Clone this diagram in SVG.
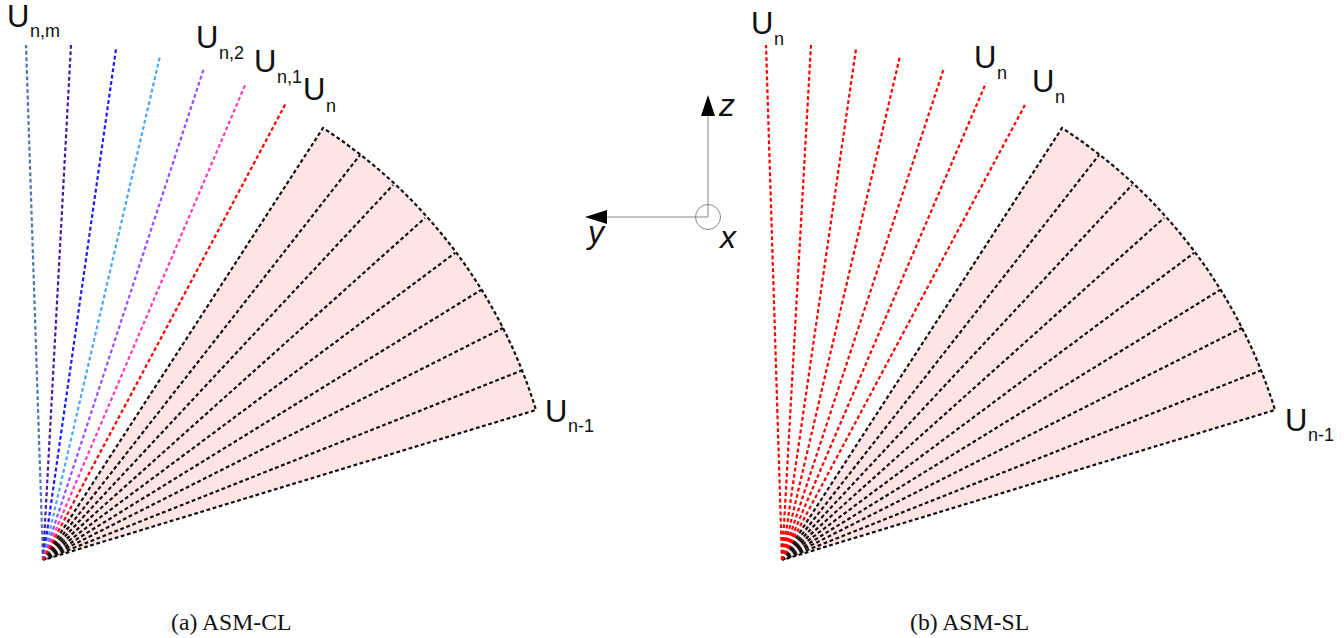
<svg xmlns="http://www.w3.org/2000/svg" width="1344" height="638" viewBox="0 0 1344 638">
<style>
.s{fill:none;stroke-width:2.2;stroke-dasharray:3.8 2.6}
.k{stroke:#111}
.r{stroke:#f00}
.w{fill:#fee4e4;stroke:none}
text{font-family:"Liberation Sans",Arial,sans-serif;fill:#111}
.u{font-size:31px}
.b{font-size:18px}
.i{font-size:32px;font-style:italic}
.c{font-family:"Liberation Serif","Times New Roman",serif;font-size:23.7px}
.a{fill:none;stroke:#888;stroke-width:1}
</style>
<defs>
<g id="fan">
<path class="w" d="M43 560L323 128A515 515 0 0 1 536 410Z"/>
<path class="s k" d="M43 560L323 128A515 515 0 0 1 536 410L43 560M43 560L360 155M43 560L393 185M43 560L425 218M43 560L455 253M43 560L481 290M43 560L503 328M43 560L523 370"/>
</g>
</defs>
<g id="panel-a">
<use href="#fan"/>
<g id="connectors-a">
<path class="s" stroke="#4a78b0" d="M43 560L26 45"/>
<path class="s" stroke="#4a1a9c" d="M43 560L71 45"/>
<path class="s" stroke="#1a1aff" d="M43 560L116 49"/>
<path class="s" stroke="#4da6ff" d="M43 560L160 56"/>
<path class="s" stroke="#9b4dff" d="M43 560L204 68"/>
<path class="s" stroke="#ff3db8" d="M43 560L246 83"/>
<path class="s r" d="M43 560L286 103"/>
</g>
<text class="u" x="7" y="27">U</text><text class="b" x="30" y="37">n,m</text>
<text class="u" x="196" y="48">U</text><text class="b" x="219" y="59">n,2</text>
<text class="u" x="254" y="72">U</text><text class="b" x="277" y="83">n,1</text>
<text class="u" x="303" y="100">U</text><text class="b" x="326" y="112">n</text>
<text class="u" x="545" y="422">U</text><text class="b" x="568" y="432">n-1</text>
<text class="c" x="171" y="630">(a) ASM-CL</text>
</g>
<g id="axes">
<path class="a" d="M708 110V217H600"/>
<circle class="a" cx="708" cy="217" r="12.5"/>
<path d="M708 95L715 116H701Z" fill="#000"/>
<path d="M585 217L607 210V224Z" fill="#000"/>
<text class="i" x="719" y="116">z</text>
<text class="i" x="588" y="243">y</text>
<text class="i" x="720" y="248">x</text>
</g>
<g id="panel-b" transform="translate(739 0)">
<use href="#fan"/>
<g id="connectors-b">
<path class="s r" d="M43 560L27 45M43 560L72 45M43 560L117 49M43 560L161 56M43 560L205 68M43 560L247 83M43 560L287 103"/>
</g>
<text class="u" x="12" y="34">U</text><text class="b" x="35" y="45">n</text>
<text class="u" x="235" y="68">U</text><text class="b" x="258" y="79">n</text>
<text class="u" x="293" y="92">U</text><text class="b" x="316" y="103">n</text>
<text class="u" x="546" y="431">U</text><text class="b" x="569" y="441">n-1</text>
<text class="c" x="171" y="630">(b) ASM-SL</text>
</g>
</svg>
